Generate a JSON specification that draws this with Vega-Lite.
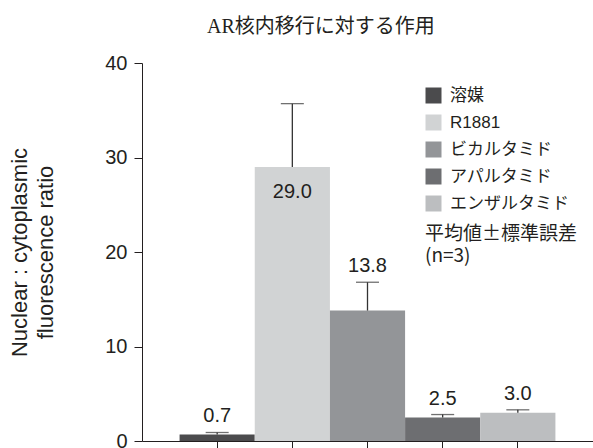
{
  "$schema": "https://vega.github.io/schema/vega-lite/v6.json",
  "width": 451,
  "height": 378,
  "autosize": {"type": "none"},
  "padding": {"left": 142, "top": 63, "right": 0, "bottom": 7},
  "background": "white",
  "title": {
    "text": "AR核内移行に対する作用",
    "font": "Liberation Serif, Noto Sans CJK JP",
    "fontSize": 20,
    "fontWeight": "normal",
    "color": "#231f20",
    "anchor": "start",
    "frame": "group",
    "dx": 65,
    "offset": 16
  },
  "data": {
    "values": [
      {"group": "溶媒", "value": 0.7, "upper": 0.9},
      {"group": "R1881", "value": 29.0, "upper": 35.7},
      {"group": "ビカルタミド", "value": 13.8, "upper": 16.8},
      {"group": "アパルタミド", "value": 2.5, "upper": 2.8},
      {"group": "エンザルタミド", "value": 3.0, "upper": 3.3}
    ]
  },
  "encoding": {
    "x": {
      "field": "group",
      "type": "nominal",
      "sort": null,
      "scale": {"paddingInner": 0, "paddingOuter": 0.5},
      "axis": {
        "title": null,
        "labels": false,
        "ticks": true,
        "tickSize": 10,
        "tickColor": "#231f20",
        "tickWidth": 1,
        "domainColor": "#231f20",
        "domainWidth": 1,
        "grid": false
      }
    }
  },
  "layer": [
    {
      "mark": {"type": "bar"},
      "encoding": {
        "y": {
          "field": "value",
          "type": "quantitative",
          "scale": {"domain": [0, 40], "nice": false},
          "axis": {
            "title": ["Nuclear : cytoplasmic", "fluorescence ratio"],
            "titleFont": "Liberation Sans",
            "titleFontSize": 22,
            "titleFontWeight": "normal",
            "titleColor": "#231f20",
            "titleLineHeight": 26,
            "titlePadding": 47,
            "values": [0, 10, 20, 30, 40],
            "labelFont": "Liberation Sans",
            "labelFontSize": 20,
            "labelColor": "#231f20",
            "labelPadding": 7,
            "tickSize": 8,
            "tickColor": "#231f20",
            "domainColor": "#231f20",
            "grid": false
          }
        },
        "color": {
          "field": "group",
          "type": "nominal",
          "sort": null,
          "scale": {
            "domain": ["溶媒", "R1881", "ビカルタミド", "アパルタミド", "エンザルタミド"],
            "range": ["#4b4b4d", "#d1d3d4", "#939598", "#6d6e71", "#bcbec0"]
          },
          "legend": {
            "orient": "none",
            "legendX": 283,
            "legendY": 24,
            "title": ["平均値±標準誤差", "(n=3)"],
            "titleOrient": "bottom",
            "titleAlign": "left",
            "titleAnchor": "start",
            "titleFont": "Noto Sans CJK JP",
            "titleFontSize": 19,
            "titleFontWeight": "normal",
            "titleColor": "#231f20",
            "titleLineHeight": 22,
            "titlePadding": 13,
            "symbolType": "square",
            "symbolSize": 256,
            "symbolStrokeWidth": 0,
            "symbolOpacity": 1,
            "labelFont": "Liberation Sans, Noto Sans CJK JP",
            "labelFontSize": 17,
            "labelColor": "#231f20",
            "labelOffset": 8,
            "rowPadding": 9,
            "labelLimit": 300
          }
        }
      }
    },
    {
      "mark": {"type": "rule", "color": "#333333", "strokeWidth": 1.3},
      "encoding": {
        "y": {"field": "value", "type": "quantitative"},
        "y2": {"field": "upper"}
      }
    },
    {
      "mark": {"type": "tick", "color": "#333333", "thickness": 1.3, "size": 23},
      "encoding": {
        "y": {"field": "upper", "type": "quantitative"}
      }
    },
    {
      "transform": [{"filter": "datum.group !== 'R1881'"}],
      "mark": {"type": "text", "font": "Liberation Sans", "fontSize": 20, "color": "#231f20", "baseline": "alphabetic", "dy": -10},
      "encoding": {
        "y": {"field": "upper", "type": "quantitative"},
        "text": {"field": "value", "type": "quantitative", "format": ".1f"}
      }
    },
    {
      "transform": [{"filter": "datum.group === 'R1881'"}],
      "mark": {"type": "text", "font": "Liberation Sans", "fontSize": 20, "color": "#231f20", "baseline": "alphabetic", "dy": 31},
      "encoding": {
        "y": {"field": "value", "type": "quantitative"},
        "text": {"field": "value", "type": "quantitative", "format": ".1f"}
      }
    }
  ],
  "config": {
    "view": {"stroke": null},
    "font": "Liberation Sans"
  }
}
